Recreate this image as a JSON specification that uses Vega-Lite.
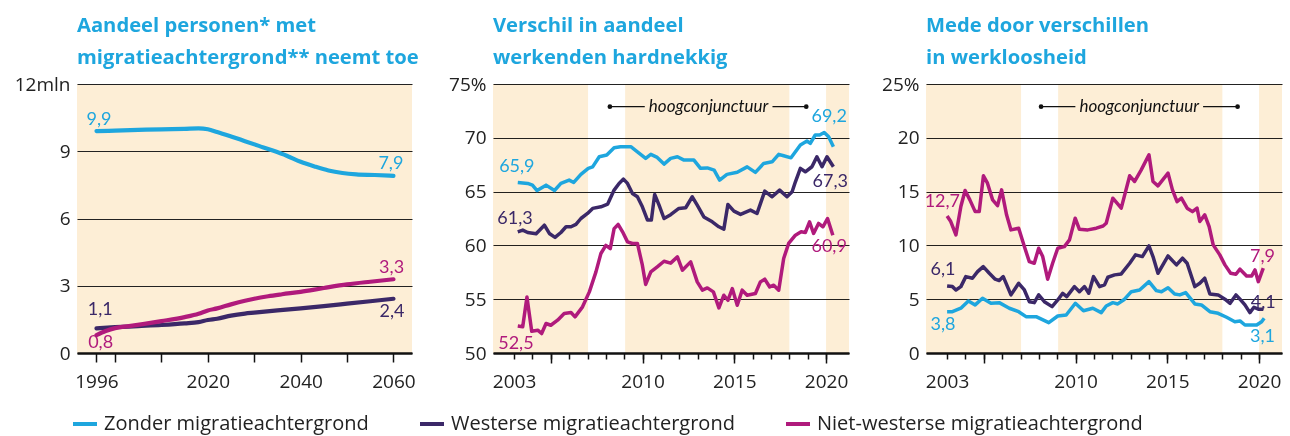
{
"$schema": "https://vega.github.io/schema/vega-lite/v6.json",
"padding": {"left": 14, "top": 15, "right": 5, "bottom": 5},
"background": "white",
"spacing": 81,
"bounds": "flush",
"config": {
  "font": "Open Sans",
  "view": {"stroke": null},
  "title": {"anchor": "start", "frame": "group", "font": "Open Sans", "fontSize": 20.2, "fontWeight": "bold", "color": "#1ea6de", "lineHeight": 32, "offset": 7},
  "axisY": {"domain": false, "ticks": false, "grid": true, "gridColor": "#222", "gridWidth": 1, "labelFont": "Open Sans", "labelFontSize": 19, "labelColor": "#222", "labelPadding": 7, "title": null},
  "axisX": {"domain": true, "domainColor": "#111", "domainWidth": 2.5, "ticks": true, "tickColor": "#111", "tickWidth": 1.5, "grid": false, "labelFont": "Open Sans", "labelFontSize": 19, "labelColor": "#222", "labelPadding": 10, "labelOverlap": false, "labelFlush": false, "title": null},
  "legend": {"orient": "none", "legendX": -6, "legendY": 326, "direction": "horizontal", "title": null, "symbolType": "stroke", "symbolStrokeWidth": 4, "symbolSize": 576, "labelFont": "Open Sans", "labelFontSize": 20, "labelColor": "#222", "columnPadding": 43, "labelOffset": 5, "labelLimit": 0}
},
"datasets": {
  "p1": [
    {"s":"Zonder migratieachtergrond","x":1996,"y":9.9},{"s":"Zonder migratieachtergrond","x":2000,"y":9.92},{"s":"Zonder migratieachtergrond","x":2005,"y":9.95},{"s":"Zonder migratieachtergrond","x":2010,"y":9.98},{"s":"Zonder migratieachtergrond","x":2015,"y":10.0},{"s":"Zonder migratieachtergrond","x":2018,"y":10.02},{"s":"Zonder migratieachtergrond","x":2020,"y":9.98},{"s":"Zonder migratieachtergrond","x":2022,"y":9.86},{"s":"Zonder migratieachtergrond","x":2025,"y":9.66},{"s":"Zonder migratieachtergrond","x":2028,"y":9.45},{"s":"Zonder migratieachtergrond","x":2031,"y":9.24},{"s":"Zonder migratieachtergrond","x":2034,"y":9.03},{"s":"Zonder migratieachtergrond","x":2037,"y":8.8},{"s":"Zonder migratieachtergrond","x":2040,"y":8.53},{"s":"Zonder migratieachtergrond","x":2043,"y":8.32},{"s":"Zonder migratieachtergrond","x":2046,"y":8.14},{"s":"Zonder migratieachtergrond","x":2049,"y":8.03},{"s":"Zonder migratieachtergrond","x":2052,"y":7.97},{"s":"Zonder migratieachtergrond","x":2056,"y":7.94},{"s":"Zonder migratieachtergrond","x":2060,"y":7.9},
    {"s":"Westerse migratieachtergrond","x":1996,"y":1.1},{"s":"Westerse migratieachtergrond","x":2000,"y":1.15},{"s":"Westerse migratieachtergrond","x":2005,"y":1.2},{"s":"Westerse migratieachtergrond","x":2010,"y":1.25},{"s":"Westerse migratieachtergrond","x":2015,"y":1.32},{"s":"Westerse migratieachtergrond","x":2018,"y":1.38},{"s":"Westerse migratieachtergrond","x":2020,"y":1.47},{"s":"Westerse migratieachtergrond","x":2022,"y":1.53},{"s":"Westerse migratieachtergrond","x":2025,"y":1.67},{"s":"Westerse migratieachtergrond","x":2028,"y":1.76},{"s":"Westerse migratieachtergrond","x":2030,"y":1.8},{"s":"Westerse migratieachtergrond","x":2035,"y":1.9},{"s":"Westerse migratieachtergrond","x":2040,"y":1.99},{"s":"Westerse migratieachtergrond","x":2045,"y":2.09},{"s":"Westerse migratieachtergrond","x":2050,"y":2.2},{"s":"Westerse migratieachtergrond","x":2055,"y":2.31},{"s":"Westerse migratieachtergrond","x":2060,"y":2.42},
    {"s":"Niet-westerse migratieachtergrond","x":1996,"y":0.8},{"s":"Niet-westerse migratieachtergrond","x":1998,"y":0.98},{"s":"Niet-westerse migratieachtergrond","x":2000,"y":1.11},{"s":"Niet-westerse migratieachtergrond","x":2003,"y":1.2},{"s":"Niet-westerse migratieachtergrond","x":2006,"y":1.29},{"s":"Niet-westerse migratieachtergrond","x":2010,"y":1.42},{"s":"Niet-westerse migratieachtergrond","x":2015,"y":1.6},{"s":"Niet-westerse migratieachtergrond","x":2018,"y":1.75},{"s":"Niet-westerse migratieachtergrond","x":2020,"y":1.9},{"s":"Niet-westerse migratieachtergrond","x":2022,"y":1.99},{"s":"Niet-westerse migratieachtergrond","x":2025,"y":2.17},{"s":"Niet-westerse migratieachtergrond","x":2028,"y":2.33},{"s":"Niet-westerse migratieachtergrond","x":2030,"y":2.42},{"s":"Niet-westerse migratieachtergrond","x":2033,"y":2.53},{"s":"Niet-westerse migratieachtergrond","x":2036,"y":2.62},{"s":"Niet-westerse migratieachtergrond","x":2040,"y":2.73},{"s":"Niet-westerse migratieachtergrond","x":2045,"y":2.9},{"s":"Niet-westerse migratieachtergrond","x":2050,"y":3.06},{"s":"Niet-westerse migratieachtergrond","x":2055,"y":3.18},{"s":"Niet-westerse migratieachtergrond","x":2060,"y":3.29}
  ],
  "l1": [
    {"s":"Zonder migratieachtergrond","x":1996.55,"y":10.39,"t":"9,9"},{"s":"Zonder migratieachtergrond","x":2059.45,"y":8.45,"t":"7,9"},
    {"s":"Westerse migratieachtergrond","x":1996.8,"y":1.92,"t":"1,1"},{"s":"Westerse migratieachtergrond","x":2059.7,"y":1.85,"t":"2,4"},
    {"s":"Niet-westerse migratieachtergrond","x":1996.9,"y":0.43,"t":"0,8"},{"s":"Niet-westerse migratieachtergrond","x":2059.6,"y":3.78,"t":"3,3"}
  ],
  "p2": [
    {"s":"Zonder migratieachtergrond","x":2003.2,"y":65.85},{"s":"Zonder migratieachtergrond","x":2003.74,"y":65.76},{"s":"Zonder migratieachtergrond","x":2004.0,"y":65.6},{"s":"Zonder migratieachtergrond","x":2004.25,"y":65.1},{"s":"Zonder migratieachtergrond","x":2004.74,"y":65.6},{"s":"Zonder migratieachtergrond","x":2005.2,"y":65.1},{"s":"Zonder migratieachtergrond","x":2005.55,"y":65.76},{"s":"Zonder migratieachtergrond","x":2006.0,"y":66.07},{"s":"Zonder migratieachtergrond","x":2006.25,"y":65.85},{"s":"Zonder migratieachtergrond","x":2006.64,"y":66.6},{"s":"Zonder migratieachtergrond","x":2007.04,"y":67.16},{"s":"Zonder migratieachtergrond","x":2007.28,"y":67.3},{"s":"Zonder migratieachtergrond","x":2007.64,"y":68.24},{"s":"Zonder migratieachtergrond","x":2008.05,"y":68.4},{"s":"Zonder migratieachtergrond","x":2008.45,"y":69.08},{"s":"Zonder migratieachtergrond","x":2008.8,"y":69.17},{"s":"Zonder migratieachtergrond","x":2009.36,"y":69.17},{"s":"Zonder migratieachtergrond","x":2009.72,"y":68.7},{"s":"Zonder migratieachtergrond","x":2010.17,"y":68.09},{"s":"Zonder migratieachtergrond","x":2010.45,"y":68.46},{"s":"Zonder migratieachtergrond","x":2010.8,"y":68.18},{"s":"Zonder migratieachtergrond","x":2011.17,"y":67.56},{"s":"Zonder migratieachtergrond","x":2011.53,"y":68.09},{"s":"Zonder migratieachtergrond","x":2011.9,"y":68.24},{"s":"Zonder migratieachtergrond","x":2012.26,"y":67.93},{"s":"Zonder migratieachtergrond","x":2012.8,"y":67.93},{"s":"Zonder migratieachtergrond","x":2013.16,"y":67.16},{"s":"Zonder migratieachtergrond","x":2013.53,"y":67.2},{"s":"Zonder migratieachtergrond","x":2013.9,"y":67.0},{"s":"Zonder migratieachtergrond","x":2014.2,"y":66.07},{"s":"Zonder migratieachtergrond","x":2014.6,"y":66.6},{"s":"Zonder migratieachtergrond","x":2015.16,"y":66.79},{"s":"Zonder migratieachtergrond","x":2015.7,"y":67.3},{"s":"Zonder migratieachtergrond","x":2016.15,"y":66.79},{"s":"Zonder migratieachtergrond","x":2016.6,"y":67.62},{"s":"Zonder migratieachtergrond","x":2017.06,"y":67.77},{"s":"Zonder migratieachtergrond","x":2017.42,"y":68.46},{"s":"Zonder migratieachtergrond","x":2017.69,"y":68.33},{"s":"Zonder migratieachtergrond","x":2018.09,"y":68.14},{"s":"Zonder migratieachtergrond","x":2018.6,"y":69.33},{"s":"Zonder migratieachtergrond","x":2018.96,"y":69.7},{"s":"Zonder migratieachtergrond","x":2019.14,"y":69.48},{"s":"Zonder migratieachtergrond","x":2019.41,"y":70.26},{"s":"Zonder migratieachtergrond","x":2019.65,"y":70.26},{"s":"Zonder migratieachtergrond","x":2019.9,"y":70.5},{"s":"Zonder migratieachtergrond","x":2020.14,"y":70.1},{"s":"Zonder migratieachtergrond","x":2020.4,"y":69.17},
    {"s":"Westerse migratieachtergrond","x":2003.2,"y":61.26},{"s":"Westerse migratieachtergrond","x":2003.47,"y":61.42},{"s":"Westerse migratieachtergrond","x":2003.74,"y":61.2},{"s":"Westerse migratieachtergrond","x":2004.2,"y":61.08},{"s":"Westerse migratieachtergrond","x":2004.65,"y":61.88},{"s":"Westerse migratieachtergrond","x":2004.92,"y":61.11},{"s":"Westerse migratieachtergrond","x":2005.23,"y":60.74},{"s":"Westerse migratieachtergrond","x":2005.55,"y":61.2},{"s":"Westerse migratieachtergrond","x":2005.83,"y":61.73},{"s":"Westerse migratieachtergrond","x":2006.1,"y":61.73},{"s":"Westerse migratieachtergrond","x":2006.37,"y":61.95},{"s":"Westerse migratieachtergrond","x":2006.64,"y":62.5},{"s":"Westerse migratieachtergrond","x":2007.0,"y":62.97},{"s":"Westerse migratieachtergrond","x":2007.28,"y":63.44},{"s":"Westerse migratieachtergrond","x":2007.73,"y":63.59},{"s":"Westerse migratieachtergrond","x":2008.1,"y":63.84},{"s":"Westerse migratieachtergrond","x":2008.45,"y":65.14},{"s":"Westerse migratieachtergrond","x":2008.72,"y":65.76},{"s":"Westerse migratieachtergrond","x":2008.96,"y":66.16},{"s":"Westerse migratieachtergrond","x":2009.18,"y":65.76},{"s":"Westerse migratieachtergrond","x":2009.45,"y":64.83},{"s":"Westerse migratieachtergrond","x":2009.72,"y":64.52},{"s":"Westerse migratieachtergrond","x":2009.99,"y":63.59},{"s":"Westerse migratieachtergrond","x":2010.27,"y":62.35},{"s":"Westerse migratieachtergrond","x":2010.48,"y":62.35},{"s":"Westerse migratieachtergrond","x":2010.66,"y":64.74},{"s":"Westerse migratieachtergrond","x":2010.9,"y":63.74},{"s":"Westerse migratieachtergrond","x":2011.17,"y":62.5},{"s":"Westerse migratieachtergrond","x":2011.53,"y":62.85},{"s":"Westerse migratieachtergrond","x":2011.98,"y":63.44},{"s":"Westerse migratieachtergrond","x":2012.35,"y":63.5},{"s":"Westerse migratieachtergrond","x":2012.71,"y":64.52},{"s":"Westerse migratieachtergrond","x":2012.98,"y":63.74},{"s":"Westerse migratieachtergrond","x":2013.34,"y":62.65},{"s":"Westerse migratieachtergrond","x":2013.8,"y":62.19},{"s":"Westerse migratieachtergrond","x":2014.16,"y":61.73},{"s":"Westerse migratieachtergrond","x":2014.43,"y":61.51},{"s":"Westerse migratieachtergrond","x":2014.65,"y":63.8},{"s":"Westerse migratieachtergrond","x":2014.98,"y":63.19},{"s":"Westerse migratieachtergrond","x":2015.34,"y":62.88},{"s":"Westerse migratieachtergrond","x":2015.88,"y":63.28},{"s":"Westerse migratieachtergrond","x":2016.24,"y":62.97},{"s":"Westerse migratieachtergrond","x":2016.66,"y":65.05},{"s":"Westerse migratieachtergrond","x":2017.06,"y":64.52},{"s":"Westerse migratieachtergrond","x":2017.47,"y":65.14},{"s":"Westerse migratieachtergrond","x":2017.87,"y":64.52},{"s":"Westerse migratieachtergrond","x":2018.15,"y":64.98},{"s":"Westerse migratieachtergrond","x":2018.33,"y":65.91},{"s":"Westerse migratieachtergrond","x":2018.6,"y":67.16},{"s":"Westerse migratieachtergrond","x":2018.87,"y":66.84},{"s":"Westerse migratieachtergrond","x":2019.23,"y":67.31},{"s":"Westerse migratieachtergrond","x":2019.5,"y":68.24},{"s":"Westerse migratieachtergrond","x":2019.78,"y":67.31},{"s":"Westerse migratieachtergrond","x":2020.05,"y":68.24},{"s":"Westerse migratieachtergrond","x":2020.4,"y":67.31},
    {"s":"Niet-westerse migratieachtergrond","x":2003.2,"y":52.5},{"s":"Niet-westerse migratieachtergrond","x":2003.47,"y":52.43},{"s":"Niet-westerse migratieachtergrond","x":2003.7,"y":55.2},{"s":"Niet-westerse migratieachtergrond","x":2003.96,"y":52.03},{"s":"Niet-westerse migratieachtergrond","x":2004.29,"y":52.12},{"s":"Niet-westerse migratieachtergrond","x":2004.5,"y":51.81},{"s":"Niet-westerse migratieachtergrond","x":2004.74,"y":52.74},{"s":"Niet-westerse migratieachtergrond","x":2005.0,"y":52.58},{"s":"Niet-westerse migratieachtergrond","x":2005.37,"y":53.05},{"s":"Niet-westerse migratieachtergrond","x":2005.73,"y":53.67},{"s":"Niet-westerse migratieachtergrond","x":2006.1,"y":53.76},{"s":"Niet-westerse migratieachtergrond","x":2006.32,"y":53.36},{"s":"Niet-westerse migratieachtergrond","x":2006.73,"y":54.29},{"s":"Niet-westerse migratieachtergrond","x":2007.1,"y":55.68},{"s":"Niet-westerse migratieachtergrond","x":2007.46,"y":57.54},{"s":"Niet-westerse migratieachtergrond","x":2007.73,"y":59.25},{"s":"Niet-westerse migratieachtergrond","x":2008.0,"y":60.0},{"s":"Niet-westerse migratieachtergrond","x":2008.24,"y":59.7},{"s":"Niet-westerse migratieachtergrond","x":2008.45,"y":61.56},{"s":"Niet-westerse migratieachtergrond","x":2008.67,"y":61.95},{"s":"Niet-westerse migratieachtergrond","x":2008.91,"y":61.26},{"s":"Niet-westerse migratieachtergrond","x":2009.18,"y":60.33},{"s":"Niet-westerse migratieachtergrond","x":2009.45,"y":60.18},{"s":"Niet-westerse migratieachtergrond","x":2009.72,"y":60.18},{"s":"Niet-westerse migratieachtergrond","x":2009.99,"y":58.16},{"s":"Niet-westerse migratieachtergrond","x":2010.17,"y":56.37},{"s":"Niet-westerse migratieachtergrond","x":2010.45,"y":57.54},{"s":"Niet-westerse migratieachtergrond","x":2010.8,"y":58.0},{"s":"Niet-westerse migratieachtergrond","x":2011.17,"y":58.53},{"s":"Niet-westerse migratieachtergrond","x":2011.53,"y":58.35},{"s":"Niet-westerse migratieachtergrond","x":2011.9,"y":58.93},{"s":"Niet-westerse migratieachtergrond","x":2012.17,"y":57.7},{"s":"Niet-westerse migratieachtergrond","x":2012.62,"y":58.47},{"s":"Niet-westerse migratieachtergrond","x":2012.98,"y":56.61},{"s":"Niet-westerse migratieachtergrond","x":2013.26,"y":55.84},{"s":"Niet-westerse migratieachtergrond","x":2013.53,"y":56.05},{"s":"Niet-westerse migratieachtergrond","x":2013.86,"y":55.68},{"s":"Niet-westerse migratieachtergrond","x":2014.16,"y":54.19},{"s":"Niet-westerse migratieachtergrond","x":2014.43,"y":55.37},{"s":"Niet-westerse migratieachtergrond","x":2014.65,"y":54.9},{"s":"Niet-westerse migratieachtergrond","x":2014.89,"y":55.99},{"s":"Niet-westerse migratieachtergrond","x":2015.16,"y":54.44},{"s":"Niet-westerse migratieachtergrond","x":2015.43,"y":55.84},{"s":"Niet-westerse migratieachtergrond","x":2015.7,"y":55.37},{"s":"Niet-westerse migratieachtergrond","x":2016.15,"y":55.53},{"s":"Niet-westerse migratieachtergrond","x":2016.42,"y":56.61},{"s":"Niet-westerse migratieachtergrond","x":2016.66,"y":56.86},{"s":"Niet-westerse migratieachtergrond","x":2016.93,"y":56.14},{"s":"Niet-westerse migratieachtergrond","x":2017.15,"y":56.3},{"s":"Niet-westerse migratieachtergrond","x":2017.42,"y":55.84},{"s":"Niet-westerse migratieachtergrond","x":2017.69,"y":58.78},{"s":"Niet-westerse migratieachtergrond","x":2017.96,"y":60.18},{"s":"Niet-westerse migratieachtergrond","x":2018.33,"y":60.95},{"s":"Niet-westerse migratieachtergrond","x":2018.64,"y":61.26},{"s":"Niet-westerse migratieachtergrond","x":2018.87,"y":61.2},{"s":"Niet-westerse migratieachtergrond","x":2019.1,"y":62.19},{"s":"Niet-westerse migratieachtergrond","x":2019.32,"y":61.11},{"s":"Niet-westerse migratieachtergrond","x":2019.59,"y":62.04},{"s":"Niet-westerse migratieachtergrond","x":2019.83,"y":61.73},{"s":"Niet-westerse migratieachtergrond","x":2020.08,"y":62.5},{"s":"Niet-westerse migratieachtergrond","x":2020.37,"y":60.95}
  ],
  "l2": [
    {"s":"Zonder migratieachtergrond","x":2003.15,"y":67.31,"t":"65,9"},{"s":"Zonder migratieachtergrond","x":2020.17,"y":71.96,"t":"69,2"},
    {"s":"Westerse migratieachtergrond","x":2003.05,"y":62.5,"t":"61,3"},{"s":"Westerse migratieachtergrond","x":2020.23,"y":65.91,"t":"67,3"},
    {"s":"Niet-westerse migratieachtergrond","x":2003.1,"y":50.88,"t":"52,5"},{"s":"Niet-westerse migratieachtergrond","x":2020.17,"y":59.87,"t":"60,9"}
  ],
  "p3": [
    {"s":"Zonder migratieachtergrond","x":2003.0,"y":3.84},{"s":"Zonder migratieachtergrond","x":2003.29,"y":3.84},{"s":"Zonder migratieachtergrond","x":2003.75,"y":4.16},{"s":"Zonder migratieachtergrond","x":2004.16,"y":4.84},{"s":"Zonder migratieachtergrond","x":2004.53,"y":4.47},{"s":"Zonder migratieachtergrond","x":2004.93,"y":5.09},{"s":"Zonder migratieachtergrond","x":2005.39,"y":4.62},{"s":"Zonder migratieachtergrond","x":2005.84,"y":4.68},{"s":"Zonder migratieachtergrond","x":2006.39,"y":4.16},{"s":"Zonder migratieachtergrond","x":2006.9,"y":3.84},{"s":"Zonder migratieachtergrond","x":2007.3,"y":3.38},{"s":"Zonder migratieachtergrond","x":2007.85,"y":3.38},{"s":"Zonder migratieachtergrond","x":2008.54,"y":2.82},{"s":"Zonder migratieachtergrond","x":2009.03,"y":3.44},{"s":"Zonder migratieachtergrond","x":2009.49,"y":3.53},{"s":"Zonder migratieachtergrond","x":2009.99,"y":4.62},{"s":"Zonder migratieachtergrond","x":2010.43,"y":3.93},{"s":"Zonder migratieachtergrond","x":2010.94,"y":4.16},{"s":"Zonder migratieachtergrond","x":2011.4,"y":3.75},{"s":"Zonder migratieachtergrond","x":2011.67,"y":4.37},{"s":"Zonder migratieachtergrond","x":2012.03,"y":4.68},{"s":"Zonder migratieachtergrond","x":2012.3,"y":4.56},{"s":"Zonder migratieachtergrond","x":2012.67,"y":5.0},{"s":"Zonder migratieachtergrond","x":2013.04,"y":5.7},{"s":"Zonder migratieachtergrond","x":2013.49,"y":5.86},{"s":"Zonder migratieachtergrond","x":2014.0,"y":6.63},{"s":"Zonder migratieachtergrond","x":2014.4,"y":5.8},{"s":"Zonder migratieachtergrond","x":2014.68,"y":5.7},{"s":"Zonder migratieachtergrond","x":2015.04,"y":6.07},{"s":"Zonder migratieachtergrond","x":2015.4,"y":5.49},{"s":"Zonder migratieachtergrond","x":2015.68,"y":5.4},{"s":"Zonder migratieachtergrond","x":2016.0,"y":5.61},{"s":"Zonder migratieachtergrond","x":2016.5,"y":4.56},{"s":"Zonder migratieachtergrond","x":2016.86,"y":4.47},{"s":"Zonder migratieachtergrond","x":2017.32,"y":3.84},{"s":"Zonder migratieachtergrond","x":2017.77,"y":3.69},{"s":"Zonder migratieachtergrond","x":2018.23,"y":3.32},{"s":"Zonder migratieachtergrond","x":2018.68,"y":2.91},{"s":"Zonder migratieachtergrond","x":2018.96,"y":2.98},{"s":"Zonder migratieachtergrond","x":2019.23,"y":2.6},{"s":"Zonder migratieachtergrond","x":2019.6,"y":2.6},{"s":"Zonder migratieachtergrond","x":2019.87,"y":2.6},{"s":"Zonder migratieachtergrond","x":2020.14,"y":2.91},{"s":"Zonder migratieachtergrond","x":2020.28,"y":3.23},
    {"s":"Westerse migratieachtergrond","x":2003.0,"y":6.23},{"s":"Westerse migratieachtergrond","x":2003.29,"y":6.17},{"s":"Westerse migratieachtergrond","x":2003.48,"y":5.86},{"s":"Westerse migratieachtergrond","x":2003.75,"y":6.17},{"s":"Westerse migratieachtergrond","x":2004.02,"y":7.1},{"s":"Westerse migratieachtergrond","x":2004.38,"y":6.95},{"s":"Westerse migratieachtergrond","x":2004.66,"y":7.56},{"s":"Westerse migratieachtergrond","x":2004.97,"y":8.03},{"s":"Westerse migratieachtergrond","x":2005.3,"y":7.41},{"s":"Westerse migratieachtergrond","x":2005.62,"y":6.86},{"s":"Westerse migratieachtergrond","x":2005.84,"y":6.73},{"s":"Westerse migratieachtergrond","x":2006.06,"y":7.1},{"s":"Westerse migratieachtergrond","x":2006.48,"y":5.4},{"s":"Westerse migratieachtergrond","x":2006.9,"y":6.48},{"s":"Westerse migratieachtergrond","x":2007.21,"y":5.86},{"s":"Westerse migratieachtergrond","x":2007.48,"y":4.77},{"s":"Westerse migratieachtergrond","x":2007.75,"y":4.68},{"s":"Westerse migratieachtergrond","x":2007.99,"y":5.4},{"s":"Westerse migratieachtergrond","x":2008.3,"y":4.77},{"s":"Westerse migratieachtergrond","x":2008.72,"y":4.31},{"s":"Westerse migratieachtergrond","x":2009.03,"y":4.93},{"s":"Westerse migratieachtergrond","x":2009.3,"y":5.55},{"s":"Westerse migratieachtergrond","x":2009.52,"y":5.24},{"s":"Westerse migratieachtergrond","x":2009.94,"y":6.17},{"s":"Westerse migratieachtergrond","x":2010.21,"y":5.7},{"s":"Westerse migratieachtergrond","x":2010.49,"y":6.17},{"s":"Westerse migratieachtergrond","x":2010.72,"y":5.55},{"s":"Westerse migratieachtergrond","x":2010.98,"y":7.1},{"s":"Westerse migratieachtergrond","x":2011.31,"y":6.17},{"s":"Westerse migratieachtergrond","x":2011.58,"y":6.33},{"s":"Westerse migratieachtergrond","x":2011.76,"y":7.04},{"s":"Westerse migratieachtergrond","x":2012.13,"y":7.26},{"s":"Westerse migratieachtergrond","x":2012.49,"y":7.35},{"s":"Westerse migratieachtergrond","x":2012.95,"y":8.34},{"s":"Westerse migratieachtergrond","x":2013.27,"y":9.12},{"s":"Westerse migratieachtergrond","x":2013.64,"y":8.96},{"s":"Westerse migratieachtergrond","x":2014.0,"y":9.95},{"s":"Westerse migratieachtergrond","x":2014.22,"y":8.96},{"s":"Westerse migratieachtergrond","x":2014.49,"y":7.41},{"s":"Westerse migratieachtergrond","x":2015.04,"y":9.02},{"s":"Westerse migratieachtergrond","x":2015.5,"y":8.19},{"s":"Westerse migratieachtergrond","x":2015.83,"y":8.81},{"s":"Westerse migratieachtergrond","x":2016.08,"y":8.34},{"s":"Westerse migratieachtergrond","x":2016.5,"y":6.17},{"s":"Westerse migratieachtergrond","x":2016.77,"y":6.48},{"s":"Westerse migratieachtergrond","x":2017.04,"y":6.95},{"s":"Westerse migratieachtergrond","x":2017.32,"y":5.49},{"s":"Westerse migratieachtergrond","x":2017.77,"y":5.4},{"s":"Westerse migratieachtergrond","x":2018.14,"y":5.0},{"s":"Westerse migratieachtergrond","x":2018.42,"y":4.62},{"s":"Westerse migratieachtergrond","x":2018.74,"y":5.4},{"s":"Westerse migratieachtergrond","x":2018.96,"y":5.0},{"s":"Westerse migratieachtergrond","x":2019.23,"y":4.47},{"s":"Westerse migratieachtergrond","x":2019.5,"y":3.75},{"s":"Westerse migratieachtergrond","x":2019.72,"y":4.25},{"s":"Westerse migratieachtergrond","x":2019.96,"y":4.07},{"s":"Westerse migratieachtergrond","x":2020.23,"y":4.07},
    {"s":"Niet-westerse migratieachtergrond","x":2003.0,"y":12.74},{"s":"Niet-westerse migratieachtergrond","x":2003.2,"y":12.22},{"s":"Niet-westerse migratieachtergrond","x":2003.48,"y":10.98},{"s":"Niet-westerse migratieachtergrond","x":2003.75,"y":13.61},{"s":"Niet-westerse migratieachtergrond","x":2003.98,"y":15.1},{"s":"Niet-westerse migratieachtergrond","x":2004.24,"y":14.23},{"s":"Niet-westerse migratieachtergrond","x":2004.53,"y":13.14},{"s":"Niet-westerse migratieachtergrond","x":2004.75,"y":13.14},{"s":"Niet-westerse migratieachtergrond","x":2004.98,"y":16.47},{"s":"Niet-westerse migratieachtergrond","x":2005.2,"y":15.78},{"s":"Niet-westerse migratieachtergrond","x":2005.48,"y":14.23},{"s":"Niet-westerse migratieachtergrond","x":2005.75,"y":13.7},{"s":"Niet-westerse migratieachtergrond","x":2005.97,"y":15.16},{"s":"Niet-westerse migratieachtergrond","x":2006.24,"y":12.84},{"s":"Niet-westerse migratieachtergrond","x":2006.48,"y":11.44},{"s":"Niet-westerse migratieachtergrond","x":2006.9,"y":11.6},{"s":"Niet-westerse migratieachtergrond","x":2007.21,"y":9.89},{"s":"Niet-westerse migratieachtergrond","x":2007.48,"y":8.49},{"s":"Niet-westerse migratieachtergrond","x":2007.75,"y":8.34},{"s":"Niet-westerse migratieachtergrond","x":2007.99,"y":9.74},{"s":"Niet-westerse migratieachtergrond","x":2008.21,"y":8.96},{"s":"Niet-westerse migratieachtergrond","x":2008.48,"y":6.86},{"s":"Niet-westerse migratieachtergrond","x":2008.75,"y":8.34},{"s":"Niet-westerse migratieachtergrond","x":2009.03,"y":9.74},{"s":"Niet-westerse migratieachtergrond","x":2009.39,"y":9.89},{"s":"Niet-westerse migratieachtergrond","x":2009.67,"y":10.51},{"s":"Niet-westerse migratieachtergrond","x":2009.98,"y":12.53},{"s":"Niet-westerse migratieachtergrond","x":2010.21,"y":11.5},{"s":"Niet-westerse migratieachtergrond","x":2010.67,"y":11.44},{"s":"Niet-westerse migratieachtergrond","x":2011.13,"y":11.6},{"s":"Niet-westerse migratieachtergrond","x":2011.5,"y":11.8},{"s":"Niet-westerse migratieachtergrond","x":2011.67,"y":12.06},{"s":"Niet-westerse migratieachtergrond","x":2012.03,"y":14.39},{"s":"Niet-westerse migratieachtergrond","x":2012.49,"y":13.46},{"s":"Niet-westerse migratieachtergrond","x":2012.95,"y":16.47},{"s":"Niet-westerse migratieachtergrond","x":2013.22,"y":15.94},{"s":"Niet-westerse migratieachtergrond","x":2013.58,"y":17.02},{"s":"Niet-westerse migratieachtergrond","x":2014.0,"y":18.42},{"s":"Niet-westerse migratieachtergrond","x":2014.22,"y":15.94},{"s":"Niet-westerse migratieachtergrond","x":2014.49,"y":15.53},{"s":"Niet-westerse migratieachtergrond","x":2015.04,"y":16.72},{"s":"Niet-westerse migratieachtergrond","x":2015.28,"y":15.16},{"s":"Niet-westerse migratieachtergrond","x":2015.53,"y":14.07},{"s":"Niet-westerse migratieachtergrond","x":2015.77,"y":14.39},{"s":"Niet-westerse migratieachtergrond","x":2016.08,"y":13.46},{"s":"Niet-westerse migratieachtergrond","x":2016.37,"y":13.14},{"s":"Niet-westerse migratieachtergrond","x":2016.62,"y":13.46},{"s":"Niet-westerse migratieachtergrond","x":2016.77,"y":12.22},{"s":"Niet-westerse migratieachtergrond","x":2017.04,"y":12.84},{"s":"Niet-westerse migratieachtergrond","x":2017.28,"y":11.75},{"s":"Niet-westerse migratieachtergrond","x":2017.5,"y":10.05},{"s":"Niet-westerse migratieachtergrond","x":2017.86,"y":9.12},{"s":"Niet-westerse migratieachtergrond","x":2018.14,"y":8.19},{"s":"Niet-westerse migratieachtergrond","x":2018.45,"y":7.41},{"s":"Niet-westerse migratieachtergrond","x":2018.74,"y":7.32},{"s":"Niet-westerse migratieachtergrond","x":2018.96,"y":7.79},{"s":"Niet-westerse migratieachtergrond","x":2019.32,"y":7.16},{"s":"Niet-westerse migratieachtergrond","x":2019.6,"y":7.16},{"s":"Niet-westerse migratieachtergrond","x":2019.78,"y":7.72},{"s":"Niet-westerse migratieachtergrond","x":2019.96,"y":6.63},{"s":"Niet-westerse migratieachtergrond","x":2020.23,"y":7.88}
  ],
  "l3": [
    {"s":"Zonder migratieachtergrond","x":2002.78,"y":2.6,"t":"3,8"},{"s":"Zonder migratieachtergrond","x":2020.19,"y":1.52,"t":"3,1"},
    {"s":"Westerse migratieachtergrond","x":2002.78,"y":7.72,"t":"6,1"},{"s":"Westerse migratieachtergrond","x":2020.23,"y":4.62,"t":"4,1"},
    {"s":"Niet-westerse migratieachtergrond","x":2002.74,"y":14.0,"t":"12,7"},{"s":"Niet-westerse migratieachtergrond","x":2020.19,"y":8.88,"t":"7,9"}
  ],
  "bands": [{"a":2001.85,"b":2007.03},{"a":2009.05,"b":2018.0},{"a":2020.0,"b":2021.25}],
  "h2seg": [{"a":2008.22,"b":2010.12,"y":72.89},{"a":2017.08,"b":2018.92,"y":72.89}],
  "h2dot": [{"x":2008.22,"y":72.89},{"x":2018.92,"y":72.89}],
  "h2txt": [{"x":2013.6,"y":72.89,"t":"hoogconjunctuur"}],
  "h3seg": [{"a":2008.12,"b":2009.99,"y":22.89},{"a":2016.95,"b":2018.83,"y":22.89}],
  "h3dot": [{"x":2008.12,"y":22.89},{"x":2018.83,"y":22.89}],
  "h3txt": [{"x":2013.47,"y":22.89,"t":"hoogconjunctuur"}]
},
"hconcat": [
  {
    "width": 335, "height": 269,
    "title": {"text": ["Aandeel personen* met", "migratieachtergrond** neemt toe"]},
    "view": {"fill": "#fdeed6", "stroke": null},
    "layer": [
      {"data": {"name": "p1"}, "mark": {"type": "line", "strokeWidth": 4.2, "strokeCap": "round", "interpolate": "monotone"},
       "encoding": {
         "x": {"field": "x", "type": "quantitative", "scale": {"domain": [1991.8, 2064], "nice": false, "zero": false},
               "axis": {"values": [1996, 2000, 2010, 2020, 2030, 2040, 2050, 2060], "format": "d", "tickSize": 9, "labelPadding": 10, "labelExpr": "indexof([1996,2020,2040,2060], datum.value) >= 0 ? datum.label : ''"}},
         "y": {"field": "y", "type": "quantitative", "scale": {"domain": [0, 12], "nice": false},
               "axis": {"values": [0, 3, 6, 9, 12], "labelExpr": "datum.value == 12 ? '12mln' : datum.label"}},
         "color": {"field": "s", "type": "nominal",
                   "scale": {"domain": ["Zonder migratieachtergrond", "Westerse migratieachtergrond", "Niet-westerse migratieachtergrond"], "range": ["#1ea6de", "#3b2868", "#b01a7c"]},
                   "legend": {}}
       }},
      {"data": {"name": "l1"}, "mark": {"type": "text", "fontSize": 18, "font": "Lato"},
       "encoding": {
         "x": {"field": "x", "type": "quantitative"},
         "y": {"field": "y", "type": "quantitative"},
         "text": {"field": "t"},
         "color": {"field": "s", "type": "nominal", "legend": null}
       }}
    ]
  },
  {
    "spacing": 77,
    "bounds": "flush",
    "hconcat": [
      {
        "width": 356, "height": 269,
        "title": {"text": ["Verschil in aandeel", "werkenden hardnekkig"]},
        "view": {"fill": "white", "stroke": null},
        "resolve": {"axis": {"x": "independent", "y": "independent"}},
        "layer": [
          {"data": {"name": "bands"}, "mark": {"type": "rect", "color": "#fdeed6", "blend": "multiply"},
           "encoding": {
             "x": {"field": "a", "type": "quantitative", "scale": {"domain": [2001.85, 2021.25], "nice": false, "zero": false},
                   "axis": {"orient": "bottom", "values": [2005, 2010, 2015, 2020], "tickSize": 10, "labels": false, "domain": false}},
             "x2": {"field": "b"}
           }},
          {"data": {"name": "p2"}, "mark": {"type": "line", "strokeWidth": 3.5, "strokeJoin": "round"},
           "encoding": {
             "x": {"field": "x", "type": "quantitative",
                   "axis": {"orient": "bottom", "values": [2003,2004,2005,2006,2007,2008,2009,2010,2011,2012,2013,2014,2015,2016,2017,2018,2019,2020], "format": "d", "tickSize": 6, "labelPadding": 13, "labelExpr": "indexof([2003,2010,2015,2020], datum.value) >= 0 ? datum.label : ''"}},
             "y": {"field": "y", "type": "quantitative", "scale": {"domain": [50, 75], "nice": false, "zero": false},
                   "axis": {"values": [50, 55, 60, 65, 70, 75], "labelExpr": "datum.value == 75 ? '75%' : datum.label"}},
             "color": {"field": "s", "type": "nominal"}
           }},
          {"data": {"name": "h2seg"}, "mark": {"type": "rule", "color": "#111", "strokeWidth": 1.3},
           "encoding": {"x": {"field": "a", "type": "quantitative", "axis": null}, "x2": {"field": "b"}, "y": {"field": "y", "type": "quantitative", "axis": null}}},
          {"data": {"name": "h2dot"}, "mark": {"type": "point", "filled": true, "color": "#111", "size": 22, "opacity": 1},
           "encoding": {"x": {"field": "x", "type": "quantitative", "axis": null}, "y": {"field": "y", "type": "quantitative", "axis": null}}},
          {"data": {"name": "h2txt"}, "mark": {"type": "text", "fontSize": 17, "fontStyle": "italic", "font": "Lato", "color": "#111"},
           "encoding": {"x": {"field": "x", "type": "quantitative", "axis": null}, "y": {"field": "y", "type": "quantitative", "axis": null}, "text": {"field": "t"}}},
          {"data": {"name": "l2"}, "mark": {"type": "text", "fontSize": 18, "font": "Lato"},
           "encoding": {
             "x": {"field": "x", "type": "quantitative", "axis": null},
             "y": {"field": "y", "type": "quantitative", "axis": null},
             "text": {"field": "t"},
             "color": {"field": "s", "type": "nominal", "legend": null}
           }}
        ]
      },
      {
        "width": 356, "height": 269,
        "title": {"text": ["Mede door verschillen", "in werkloosheid"]},
        "view": {"fill": "white", "stroke": null},
        "resolve": {"axis": {"x": "independent", "y": "independent"}},
        "layer": [
          {"data": {"name": "bands"}, "mark": {"type": "rect", "color": "#fdeed6", "blend": "multiply"},
           "encoding": {
             "x": {"field": "a", "type": "quantitative", "scale": {"domain": [2001.85, 2021.25], "nice": false, "zero": false},
                   "axis": {"orient": "bottom", "values": [2005, 2010, 2015, 2020], "tickSize": 10, "labels": false, "domain": false}},
             "x2": {"field": "b"}
           }},
          {"data": {"name": "p3"}, "mark": {"type": "line", "strokeWidth": 3.5, "strokeJoin": "round"},
           "encoding": {
             "x": {"field": "x", "type": "quantitative",
                   "axis": {"orient": "bottom", "values": [2003,2004,2005,2006,2007,2008,2009,2010,2011,2012,2013,2014,2015,2016,2017,2018,2019,2020], "format": "d", "tickSize": 6, "labelPadding": 13, "labelExpr": "indexof([2003,2010,2015,2020], datum.value) >= 0 ? datum.label : ''"}},
             "y": {"field": "y", "type": "quantitative", "scale": {"domain": [0, 25], "nice": false},
                   "axis": {"values": [0, 5, 10, 15, 20, 25], "labelExpr": "datum.value == 25 ? '25%' : datum.label"}},
             "color": {"field": "s", "type": "nominal"}
           }},
          {"data": {"name": "h3seg"}, "mark": {"type": "rule", "color": "#111", "strokeWidth": 1.3},
           "encoding": {"x": {"field": "a", "type": "quantitative", "axis": null}, "x2": {"field": "b"}, "y": {"field": "y", "type": "quantitative", "axis": null}}},
          {"data": {"name": "h3dot"}, "mark": {"type": "point", "filled": true, "color": "#111", "size": 22, "opacity": 1},
           "encoding": {"x": {"field": "x", "type": "quantitative", "axis": null}, "y": {"field": "y", "type": "quantitative", "axis": null}}},
          {"data": {"name": "h3txt"}, "mark": {"type": "text", "fontSize": 17, "fontStyle": "italic", "font": "Lato", "color": "#111"},
           "encoding": {"x": {"field": "x", "type": "quantitative", "axis": null}, "y": {"field": "y", "type": "quantitative", "axis": null}, "text": {"field": "t"}}},
          {"data": {"name": "l3"}, "mark": {"type": "text", "fontSize": 18, "font": "Lato"},
           "encoding": {
             "x": {"field": "x", "type": "quantitative", "axis": null},
             "y": {"field": "y", "type": "quantitative", "axis": null},
             "text": {"field": "t"},
             "color": {"field": "s", "type": "nominal", "legend": null}
           }}
        ]
      }
    ]
  }
]
}
